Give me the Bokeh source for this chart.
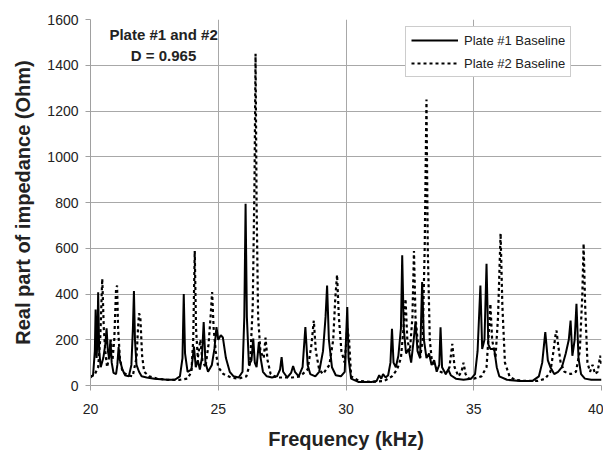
from bokeh.plotting import figure
from bokeh.models import Label, Legend, LegendItem, FixedTicker
from bokeh.embed import file_html
from bokeh.resources import INLINE

# Plate #1 Baseline (solid)
f1 = [20.0, 20.1, 20.17, 20.2, 20.24, 20.27, 20.3, 20.34, 20.4, 20.5, 20.58, 20.63, 20.68, 20.73,
      20.78, 20.83, 20.9, 21.0, 21.05, 21.1, 21.15, 21.25, 21.35, 21.5, 21.6, 21.66, 21.7, 21.74,
      21.8, 21.9, 22.0, 22.2, 22.5, 23.0, 23.3, 23.5, 23.6, 23.65, 23.7, 23.8, 23.95, 24.05, 24.12,
      24.2, 24.28, 24.36, 24.43, 24.5, 24.6, 24.75, 24.85, 24.93, 25.0, 25.1, 25.18, 25.3, 25.45,
      25.6, 25.8, 25.95, 26.02, 26.07, 26.12, 26.2, 26.3, 26.37, 26.43, 26.5, 26.59, 26.66, 26.75,
      26.9, 27.1, 27.3, 27.42, 27.48, 27.54, 27.7, 27.85, 27.93, 28.0, 28.15, 28.3, 28.41, 28.5,
      28.6, 28.8, 28.95, 29.1, 29.2, 29.26, 29.33, 29.45, 29.6, 29.8, 29.95, 30.0, 30.05, 30.1,
      30.2, 30.5, 31.0, 31.2, 31.3, 31.38, 31.45, 31.55, 31.65, 31.74, 31.8, 31.86, 31.95, 32.05,
      32.15, 32.2, 32.26, 32.35, 32.45, 32.55, 32.65, 32.72, 32.8, 32.9, 32.98, 33.05, 33.15, 33.25,
      33.35, 33.45, 33.55, 33.65, 33.7, 33.76, 33.9, 34.0, 34.1, 34.3, 34.6, 34.9, 35.05, 35.15,
      35.26, 35.33, 35.42, 35.5, 35.57, 35.65, 35.8, 35.9, 36.0, 36.3, 36.8, 37.3, 37.55, 37.68,
      37.8, 37.9, 38.0, 38.15, 38.3, 38.45, 38.6, 38.72, 38.79, 38.86, 38.95, 39.02, 39.1, 39.2,
      39.35, 39.6, 40.0]
z1 = [35, 45, 150, 332, 120, 200, 408, 150, 80, 120, 180, 250, 150, 120,
      200, 100, 55, 50, 90, 168, 110, 70, 45, 40, 90, 250, 413, 200,
      90, 60, 40, 35, 30, 25, 25, 40, 120, 400, 140, 60, 70, 170, 80,
      110, 70, 120, 277, 100, 60, 90, 160, 255, 200, 220, 210, 120, 60,
      40, 35, 60, 300, 795, 300, 90, 110, 205, 100, 80, 190, 120, 60,
      40, 35, 40, 70, 124, 60, 35, 55, 85, 60, 40, 80, 255, 90,
      50, 40, 60, 150, 300, 437, 200, 80, 45, 40, 60, 200, 343, 120,
      30, 15, 15, 20, 45, 30, 50, 35, 45, 100, 248, 100, 80, 130,
      250, 569, 250, 140, 160, 100, 200, 280, 150, 120, 452, 200, 120, 140,
      90, 110, 60, 90, 255, 80, 50, 70, 45, 30, 25, 30, 50, 150,
      437, 160, 200, 532, 180, 160, 160, 80, 40, 25, 20, 20, 40, 100,
      233, 110, 80, 50, 60, 80, 140, 200, 284, 130, 200, 357, 120, 50,
      30, 25, 25]

# Plate #2 Baseline (dotted)
f2 = [20.0, 20.15, 20.3, 20.38, 20.46, 20.52, 20.58, 20.65, 20.72, 20.8, 20.86, 20.93, 21.0, 21.04,
      21.08, 21.15, 21.25, 21.45, 21.65, 21.8, 21.86, 21.9, 21.95, 22.02, 22.1, 22.3, 22.6, 23.0,
      23.5, 23.8, 23.95, 24.02, 24.08, 24.13, 24.2, 24.3, 24.38, 24.5, 24.62, 24.7, 24.76, 24.82,
      24.9, 25.0, 25.2, 25.5, 25.8, 26.1, 26.25, 26.35, 26.42, 26.46, 26.5, 26.56, 26.65, 26.78,
      26.85, 26.93, 27.05, 27.3, 27.6, 27.9, 28.2, 28.5, 28.65, 28.74, 28.82, 28.95, 29.1, 29.35,
      29.5, 29.58, 29.65, 29.72, 29.82, 29.95, 30.05, 30.12, 30.2, 30.5, 31.0, 31.5, 31.8, 32.0,
      32.15, 32.25, 32.33, 32.4, 32.5, 32.6, 32.66, 32.72, 32.8, 32.9, 33.0, 33.08, 33.15, 33.2,
      33.28, 33.35, 33.5, 33.7, 33.9, 34.05, 34.16, 34.25, 34.4, 34.52, 34.6, 34.68, 34.8, 35.0,
      35.3, 35.5, 35.6, 35.65, 35.72, 35.85, 35.95, 36.05, 36.12, 36.22, 36.4, 36.6, 37.0, 37.5,
      37.8, 38.0, 38.12, 38.2, 38.24, 38.3, 38.4, 38.55, 38.8, 39.0, 39.15, 39.25, 39.3, 39.36,
      39.45, 39.55, 39.65, 39.75, 39.85, 39.95, 40.0]
z2 = [40, 45, 80, 200, 467, 250, 150, 80, 120, 200, 110, 200, 420, 437,
      250, 120, 60, 45, 40, 120, 250, 315, 300, 130, 60, 40, 30, 25,
      25, 30, 60, 200, 588, 250, 120, 200, 110, 80, 180, 300, 408, 250,
      150, 80, 50, 35, 30, 40, 100, 350, 900, 1450, 800, 300, 150, 120,
      209, 110, 50, 35, 35, 35, 40, 70, 180, 284, 150, 70, 50, 90,
      200, 380, 484, 300, 150, 100, 250, 200, 40, 20, 15, 20, 40, 70,
      120, 250, 379, 200, 150, 300, 588, 300, 200, 120, 200, 600, 1250, 600,
      200, 120, 80, 60, 50, 80, 182, 80, 40, 60, 100, 50, 30, 30,
      40, 80, 250, 357, 200, 120, 300, 665, 350, 100, 40, 25, 20, 20,
      30, 60, 150, 220, 240, 180, 100, 60, 50, 60, 150, 400, 620, 350,
      100, 60, 90, 50, 60, 130, 90]

x_ticks = [20, 25, 30, 35, 40]
y_ticks = [0, 200, 400, 600, 800, 1000, 1200, 1400, 1600]

FONT = "Liberation Sans"

p = figure(frame_width=511, frame_height=366, x_range=(20, 40), y_range=(0, 1600),
           output_backend="svg", toolbar_location=None,
           min_border_left=90, min_border_right=2, min_border_top=19, min_border_bottom=64)
p.outline_line_color = None
p.background_fill_color = "white"

r1 = p.line(f1, z1, line_color="black", line_width=2)
r2 = p.line(f2, z2, line_color="black", line_width=2.2, line_dash="3 3")

for ax in (p.xaxis[0], p.yaxis[0]):
    ax.axis_line_color = "#a0a0a0"
    ax.major_tick_line_color = "#a0a0a0"
    ax.major_tick_out = 5
    ax.major_tick_in = 0
    ax.minor_tick_line_color = None
    ax.major_label_text_font = FONT
    ax.major_label_text_font_size = "14px"
    ax.major_label_text_color = "#222222"
    ax.axis_label_text_font = FONT
    ax.axis_label_text_font_style = "bold"
    ax.axis_label_text_font_size = "20px"
    ax.axis_label_text_color = "#222222"

p.xaxis.ticker = FixedTicker(ticks=x_ticks)
p.yaxis.ticker = FixedTicker(ticks=y_ticks)
p.xaxis.axis_label = "Frequency (kHz)"
p.yaxis.axis_label = "Real part of impedance (Ohm)"
p.xaxis.major_label_standoff = 13
p.xaxis.axis_label_standoff = 11
p.yaxis.major_label_standoff = 7
p.yaxis.axis_label_standoff = 10

p.xgrid.ticker = FixedTicker(ticks=x_ticks)
p.ygrid.ticker = FixedTicker(ticks=y_ticks)
p.grid.grid_line_color = "#a8a8a8"
p.grid.grid_line_width = 1

p.add_layout(Label(x=22.86, y=1536, text="Plate #1 and #2", text_font=FONT, text_font_style="bold",
                   text_font_size="15px", text_align="center", text_baseline="middle", text_color="#222222"))
p.add_layout(Label(x=22.86, y=1444, text="D = 0.965", text_font=FONT, text_font_style="bold",
                   text_font_size="15px", text_align="center", text_baseline="middle", text_color="#222222"))

legend = Legend(items=[LegendItem(label="Plate #1 Baseline", renderers=[r1]),
                       LegendItem(label="Plate #2 Baseline", renderers=[r2])],
                location=(315, 308))
legend.label_text_font = FONT
legend.label_text_font_size = "13px"
legend.label_text_color = "#222222"
legend.border_line_color = "#999999"
legend.background_fill_color = "white"
legend.background_fill_alpha = 1
legend.glyph_width = 47
legend.glyph_height = 16
legend.label_standoff = 6
legend.padding = 5
legend.spacing = 7
legend.margin = 0
legend.label_height = 16
p.add_layout(legend)

open("out.html", "w").write(file_html(p, INLINE))
